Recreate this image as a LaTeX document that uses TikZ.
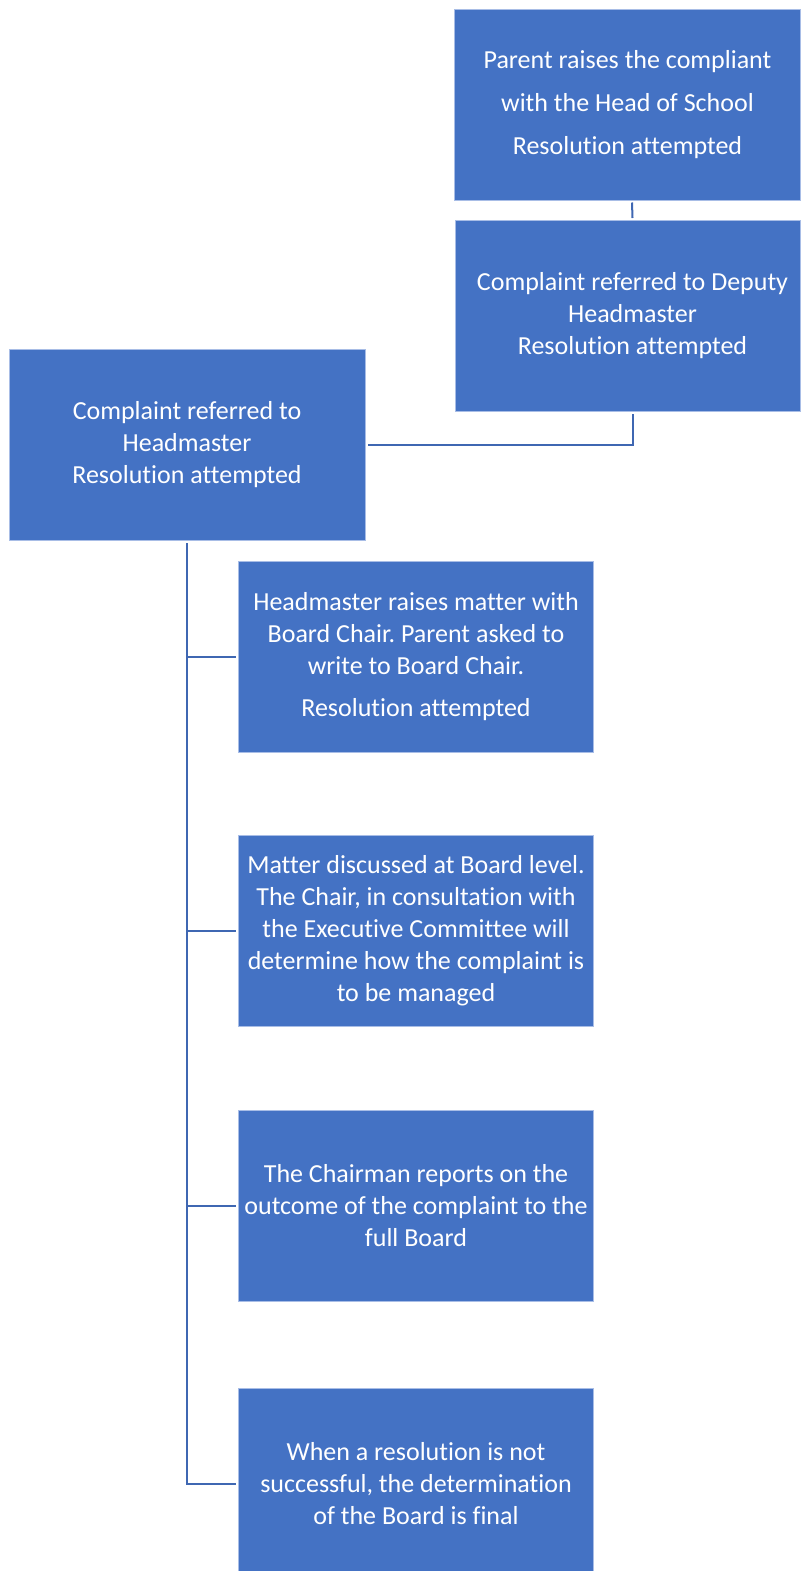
\documentclass[tikz,border=0pt]{standalone}
\usepackage{fontspec}
\setmainfont{Carlito}[Ligatures=NoCommon]
\definecolor{boxblue}{HTML}{4472C4}
\definecolor{edgeblue}{HTML}{A8BDE6}
\definecolor{linkblue}{HTML}{3F67B2}
\def\nudge{\hspace*{9pt}}
\begin{document}
\frenchspacing
\begin{tikzpicture}[x=1pt,y=-1pt]
\tikzset{
    stage/.style={draw=edgeblue, line width=.8pt, fill=boxblue, text=white,
        minimum width=355pt, minimum height=191pt,
        align=center, inner sep=0pt, outer sep=2.5pt,
        font=\fontsize{26}{32}\selectfont},
    link/.style={linkblue, line width=2pt}}

\useasboundingbox (0,0) rectangle (801,1571);

% escalation at school level
\node[stage, minimum width=346pt,
    font=\fontsize{26}{43}\selectfont] (head) at (627.5,104.5)
    {Parent raises the compliant\\with the Head of School\\Resolution attempted};
\node[stage, minimum width=345pt] (deputy) at (628,316)
    {\nudge Complaint referred to Deputy\\\nudge Headmaster\\\nudge Resolution attempted};
\node[stage, minimum width=356pt] (master) at (187,445)
    {Complaint referred to\\Headmaster\\Resolution attempted};

% board level
\node[stage] (chair) at (416,657)
    {Headmaster raises matter with\\Board Chair. Parent asked to\\write to Board Chair.\\[10pt]Resolution attempted};
\node[stage] (board) at (416,931)
    {Matter discussed at Board level.\\The Chair, in consultation with\\the Executive Committee will\\determine how the complaint is\\to be managed};
\node[stage] (report) at (416,1206)
    {The Chairman reports on the\\outcome of the complaint to the\\full Board};
\node[stage] (final) at (416,1483.5)
    {When a resolution is not\\successful, the determination\\of the Board is final};

\draw[link] ([xshift=4.5pt]head.south) -- ([xshift=4.5pt]deputy.north);
\draw[link] ([xshift=4.5pt]deputy.south) |- (master.east);
\foreach \n in {chair,board,report,final}{
    \draw[link] (master.south) |- (\n.west);
}
\end{tikzpicture}
\end{document}
